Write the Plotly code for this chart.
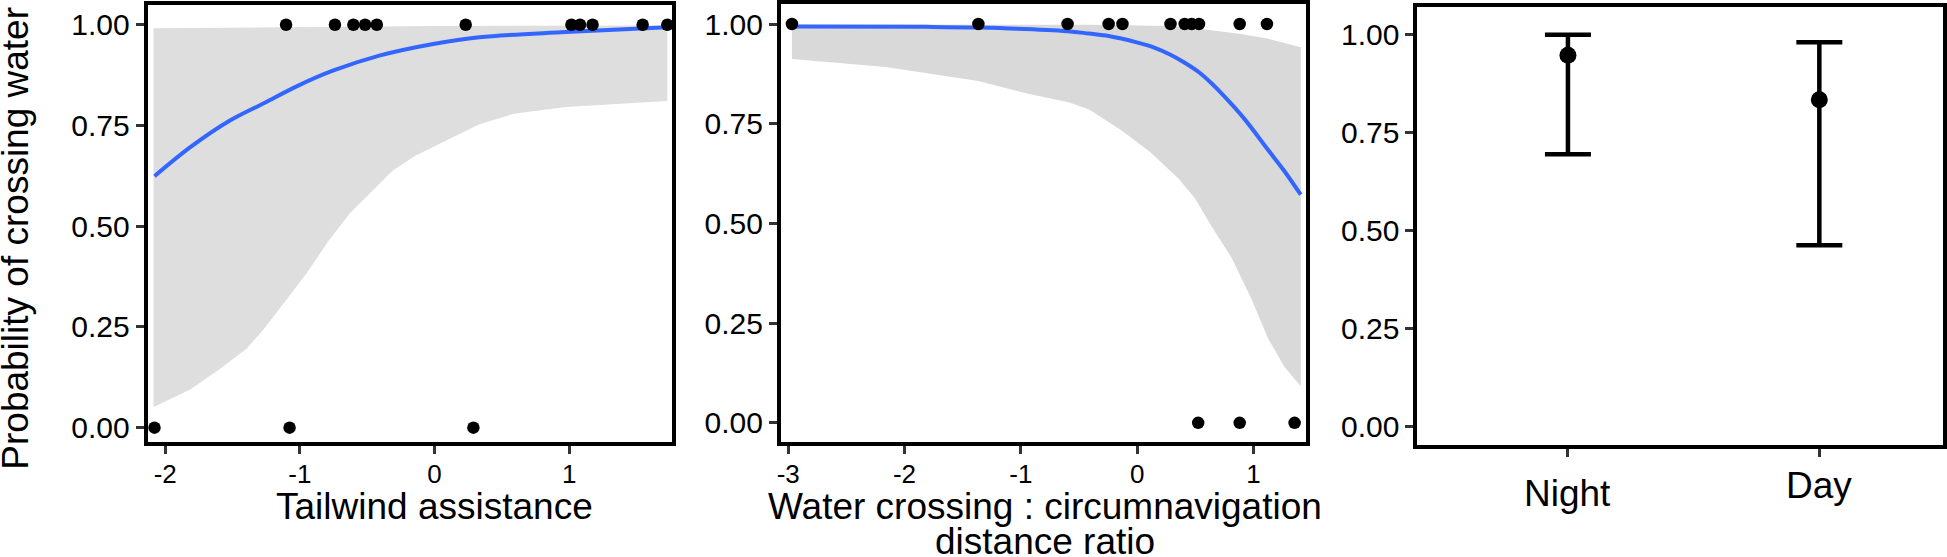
import plotly.graph_objects as go

# ---------------- data ----------------
# Panel 1: tailwind assistance
p1_pts1_x = [-1.103, -0.740, -0.603, -0.516, -0.429, 0.231, 1.016, 1.080, 1.173, 1.545, 1.728]
p1_pts0_x = [-2.080, -1.077, 0.288]
p1_fit_x = [-2.080, -1.814, -1.526, -1.269, -1.013, -0.756, -0.404, 0.0, 0.333, 0.974, 1.728]
p1_fit_y = [0.624, 0.696, 0.761, 0.805, 0.849, 0.886, 0.924, 0.953, 0.969, 0.982, 0.994]
p1_up_x = [-2.087, -1.0, 0.0, 1.728]
p1_up_y = [0.991, 0.995, 0.997, 0.998]
p1_lo_x = [-2.087, -1.814, -1.590, -1.397, -1.269, -1.109, -0.949, -0.788, -0.628, -0.468,
           -0.308, -0.147, 0.013, 0.173, 0.333, 0.590, 0.974, 1.728]
p1_lo_y = [0.051, 0.095, 0.147, 0.196, 0.244, 0.314, 0.384, 0.463, 0.533, 0.586,
           0.639, 0.674, 0.700, 0.726, 0.753, 0.779, 0.796, 0.811]

# Panel 2: water crossing : circumnavigation distance ratio
p2_pts1_x = [-2.968, -1.365, -0.598, -0.245, -0.126, 0.287, 0.409, 0.469, 0.532, 0.882, 1.116]
p2_pts0_x = [0.525, 0.882, 1.354]
p2_fit_x = [-2.968, -1.813, -1.365, -0.598, -0.413, -0.245, -0.003, 0.147, 0.287, 0.409,
            0.532, 0.637, 0.742, 0.917, 1.127, 1.267, 1.407]
p2_fit_y = [0.994, 0.993, 0.991, 0.982, 0.976, 0.970, 0.954, 0.941, 0.923, 0.903,
            0.879, 0.852, 0.821, 0.764, 0.684, 0.631, 0.572]
p2_up_x = [-2.968, -1.365, -0.413, 0.287, 0.532, 0.892, 1.127, 1.407]
p2_up_y = [0.999, 0.999, 0.998, 0.995, 0.988, 0.975, 0.963, 0.942]
p2_lo_x = [-2.968, -2.163, -1.365, -0.938, -0.588, -0.413, -0.133, 0.112, 0.357, 0.497,
           0.637, 0.812, 0.987, 1.127, 1.267, 1.407]
p2_lo_y = [0.912, 0.892, 0.857, 0.825, 0.804, 0.786, 0.733, 0.679, 0.612, 0.563,
           0.494, 0.414, 0.308, 0.211, 0.140, 0.092]

# Panel 3: time of day
p3_cats = ["Night", "Day"]
p3_est = [0.948, 0.834]
p3_lo = [0.695, 0.463]
p3_hi = [1.000, 0.981]

y_ticks = [0, 0.25, 0.5, 0.75, 1.0]
y_ticktext = ["0.00", "0.25", "0.50", "0.75", "1.00"]

# ---------------- figure ----------------
W, H = 1947, 557
FONT = "Liberation Sans, Arial, Helvetica, sans-serif"
BLUE = "#3366FF"


def px_x(a, b):
    return [a / W, b / W]


def px_y(top, bottom):
    return [1 - bottom / H, 1 - top / H]


fig = go.Figure()


def add_panel(n, up_x, up_y, lo_x, lo_y, fit_x, fit_y, p1x, p0x, fill):
    xa = "x" if n == 1 else f"x{n}"
    ya = "y" if n == 1 else f"y{n}"
    fig.add_trace(go.Scatter(
        x=list(up_x) + list(lo_x)[::-1], y=list(up_y) + list(lo_y)[::-1],
        fill="toself", fillcolor=fill, line=dict(width=0), mode="lines",
        hoverinfo="skip", xaxis=xa, yaxis=ya))
    fig.add_trace(go.Scatter(
        x=fit_x, y=fit_y, mode="lines", line=dict(color=BLUE, width=4, shape="spline"),
        xaxis=xa, yaxis=ya))
    fig.add_trace(go.Scatter(
        x=list(p1x) + list(p0x), y=[1] * len(p1x) + [0] * len(p0x), mode="markers",
        marker=dict(color="black", size=12.5), xaxis=xa, yaxis=ya, cliponaxis=True))


add_panel(1, p1_up_x, p1_up_y, p1_lo_x, p1_lo_y, p1_fit_x, p1_fit_y, p1_pts1_x, p1_pts0_x, "#dedede")
add_panel(2, p2_up_x, p2_up_y, p2_lo_x, p2_lo_y, p2_fit_x, p2_fit_y, p2_pts1_x, p2_pts0_x, "#d9d9d9")

cat_pos = list(range(1, len(p3_cats) + 1))
fig.add_trace(go.Scatter(
    x=cat_pos, y=p3_est, mode="markers",
    marker=dict(color="black", size=17),
    error_y=dict(type="data", symmetric=False,
                 array=[h - e for h, e in zip(p3_hi, p3_est)],
                 arrayminus=[e - l for e, l in zip(p3_est, p3_lo)],
                 color="black", thickness=4.5, width=23),
    xaxis="x3", yaxis="y3"))

common_axis = dict(showline=True, linewidth=4, linecolor="black", mirror=True,
                   showgrid=False, zeroline=False, ticks="outside", ticklen=8,
                   tickwidth=2.5, tickcolor="#333333")

fig.update_layout(
    width=W, height=H, margin=dict(l=0, r=0, t=0, b=0),
    paper_bgcolor="white", plot_bgcolor="white", showlegend=False,
    font=dict(family=FONT, color="black"),
    xaxis=dict(domain=px_x(144, 670), range=[-2.131, 1.765], tickvals=[-2, -1, 0, 1],
               ticktext=["-2", "-1", "0", "1"], tickfont=dict(size=26), ticklabelstandoff=-2,
               anchor="y", **common_axis),
    yaxis=dict(domain=px_y(4, 443), range=[-0.0346, 1.049], tickvals=y_ticks, ticktext=y_ticktext,
               tickfont=dict(size=30), anchor="x", **common_axis),
    xaxis2=dict(domain=px_x(779, 1305), range=[-3.062, 1.449], tickvals=[-3, -2, -1, 0, 1],
                ticktext=["-3", "-2", "-1", "0", "1"], tickfont=dict(size=26), ticklabelstandoff=-2,
                anchor="y2", **common_axis),
    yaxis2=dict(domain=px_y(3.5, 443), range=[-0.047, 1.049], tickvals=y_ticks, ticktext=y_ticktext,
                tickfont=dict(size=30), anchor="x2", **common_axis),
    xaxis3=dict(domain=px_x(1417, 1944), range=[0.401, 2.492], tickvals=cat_pos,
                showticklabels=False, anchor="y3", **common_axis),
    yaxis3=dict(domain=px_y(6, 446), range=[-0.046, 1.071], tickvals=y_ticks, ticktext=y_ticktext,
                tickfont=dict(size=30), anchor="x3", **common_axis),
)

ann = []
ann.append(dict(text="Probability of crossing water", textangle=-90, x=12 / W, y=1 - 238 / H,
                xref="paper", yref="paper", xanchor="center", yanchor="middle",
                showarrow=False, font=dict(size=37)))
ann.append(dict(text="Tailwind assistance", x=432 / W, y=1 - 508 / H, xref="paper", yref="paper",
                xanchor="center", yanchor="middle", showarrow=False, font=dict(size=37)))
ann.append(dict(text="Water crossing : circumnavigation", x=1044 / W, y=1 - 508 / H, xref="paper",
                yref="paper", xanchor="center", yanchor="middle", showarrow=False, font=dict(size=37)))
ann.append(dict(text="distance ratio", x=1044 / W, y=1 - 543 / H, xref="paper", yref="paper",
                xanchor="center", yanchor="middle", showarrow=False, font=dict(size=37)))
cat_label_y = [495.5, 487.0]
for pos, cat, ly in zip(cat_pos, p3_cats, cat_label_y):
    ann.append(dict(text=cat, x=pos, y=1 - ly / H, xref="x3", yref="paper",
                    xanchor="center", yanchor="middle", showarrow=False, font=dict(size=37)))
fig.update_layout(annotations=ann)

fig.write_html("out.html", config={"displayModeBar": False},
               post_script="document.body.style.margin='0px';")
